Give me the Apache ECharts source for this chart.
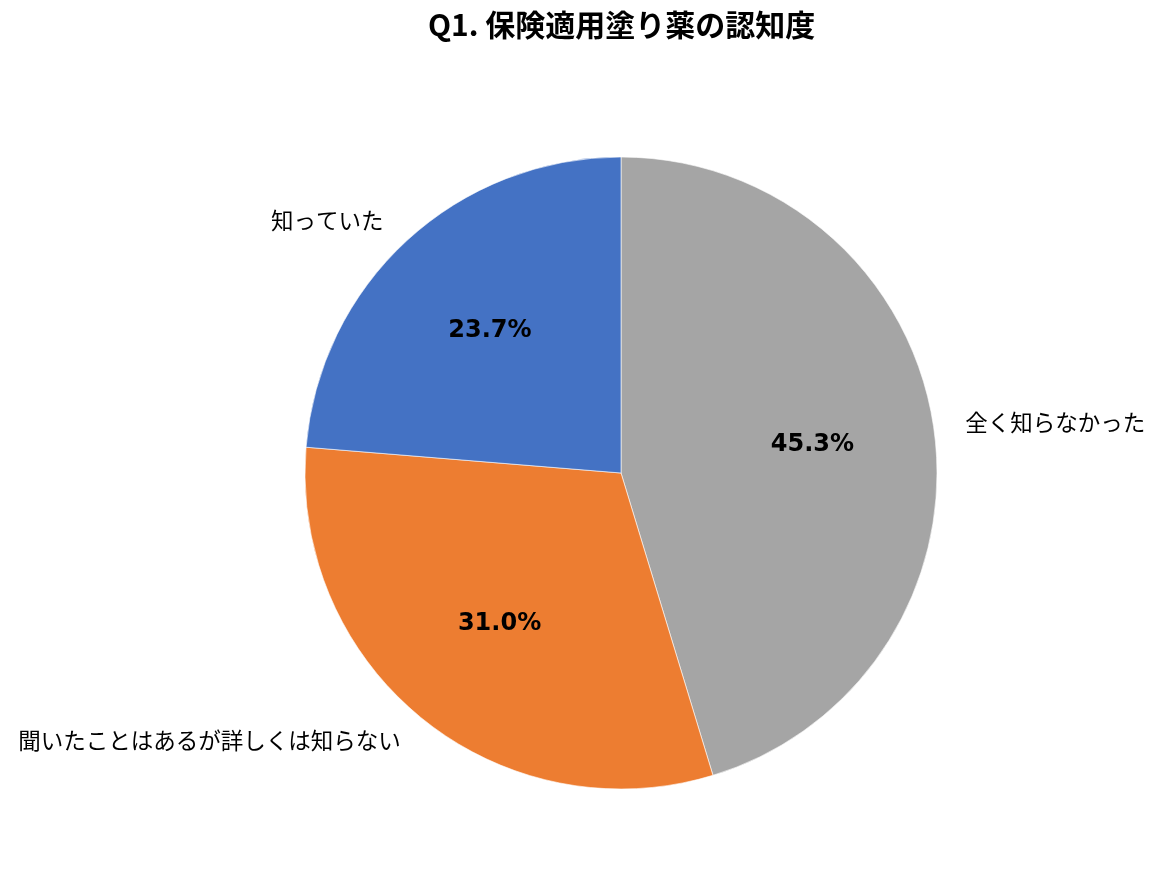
<!DOCTYPE html>
<html>
<head>
<meta charset="utf-8">
<script src="https://cdn.jsdelivr.net/npm/echarts@6/dist/echarts.min.js"></script>
<style>html,body{margin:0;padding:0;background:#fff;}#main{width:1163px;height:883px;}</style>
</head>
<body>
<div id="main"></div>
<script>
const titleText = 'Q1. 保険適用塗り薬の認知度';
const categories = ['全く知らなかった', '聞いたことはあるが詳しくは知らない', '知っていた'];
const values = [45.3, 31.0, 23.7];
const colors = ['#A5A5A5', '#ED7D31', '#4472C4'];

const font = '"Noto Sans CJK JP", "Noto Sans", sans-serif';
const numFont = '"DejaVu Sans", sans-serif';
const pieData = categories.map((c, i) => ({ name: c, value: values[i], itemStyle: { color: colors[i] } }));

const chart = echarts.init(document.getElementById('main'));
chart.setOption({
  backgroundColor: '#fff',
  animation: false,
  title: {
    text: titleText,
    left: 423,
    top: 5,
    textStyle: { fontFamily: font, fontSize: 30, fontWeight: 'bold', color: '#000' }
  },
  series: [
    {
      type: 'pie',
      center: [621, 473],
      radius: [0, 316],
      startAngle: 90,
      clockwise: true,
      avoidLabelOverlap: false,
      itemStyle: { borderColor: '#ffffff', borderWidth: 0.6 },
      label: {
        show: true,
        position: 'outside',
        formatter: '{b}',
        fontFamily: font,
        fontSize: 22.5,
        color: '#000',
        distanceToLabelLine: 5
      },
      labelLine: { show: false, length: 27, length2: 0 },
      emphasis: { disabled: true },
      data: pieData
    },
    {
      type: 'pie',
      center: [621, 473],
      radius: [65, 316],
      startAngle: 90,
      clockwise: true,
      silent: true,
      itemStyle: { color: 'rgba(0,0,0,0)', borderWidth: 0 },
      label: {
        show: true,
        position: 'inside',
        formatter: (p) => p.value.toFixed(1) + '%',
        fontFamily: numFont,
        fontSize: 24,
        fontWeight: 'bold',
        color: '#000'
      },
      labelLine: { show: false },
      emphasis: { disabled: true },
      data: categories.map((c, i) => ({ name: c, value: values[i] }))
    }
  ]
});
</script>
</body>
</html>
